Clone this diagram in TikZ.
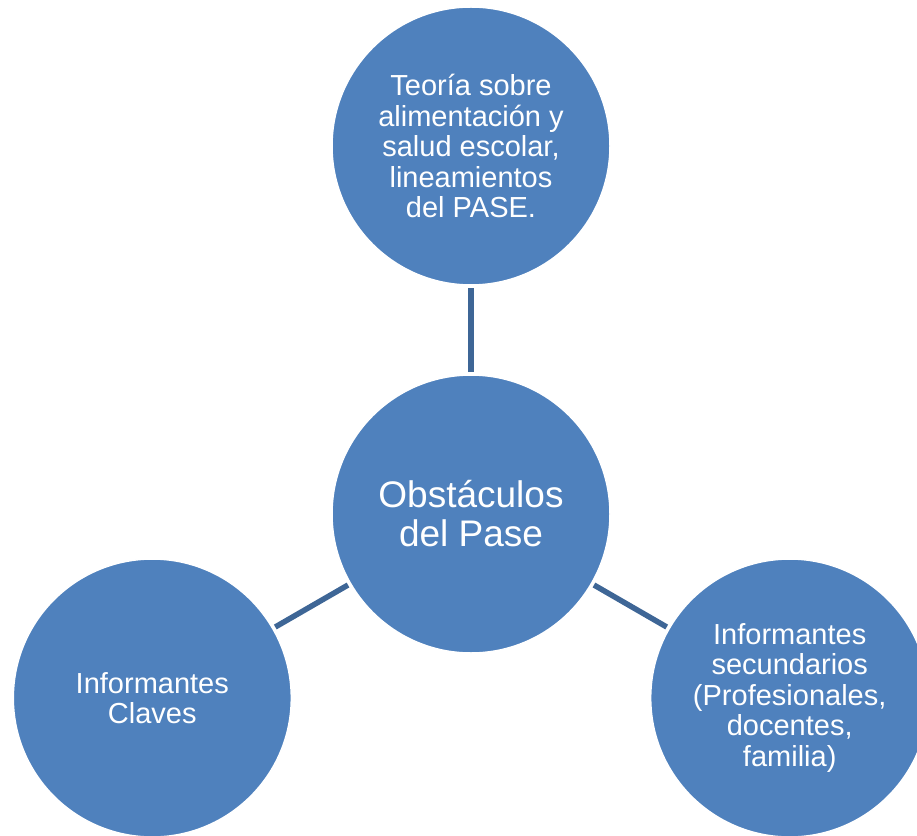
\documentclass[tikz,border=0pt]{standalone}
\usepackage{fontspec}
\setmainfont{Liberation Sans}
\usepackage{xcolor}
\usepackage{tikz}
\usetikzlibrary{calc}
\usetikzlibrary{positioning}

\definecolor{circblue}{HTML}{4F81BD}
\definecolor{linkblue}{HTML}{3E6696}

\begin{document}
\begin{tikzpicture}[x=1pt, y=1pt, main/.style = {circle, fill=circblue, draw=white, line width=1.5pt, minimum size=278pt, inner sep=0pt, outer sep=3pt, text=white, align=center, font=\fontsize{29pt}{30.5pt}\selectfont}, link/.style = {draw=linkblue, line width=5.5pt}]
		\useasboundingbox (-471,-321) rectangle (446,514);
		\node[main, font=\fontsize{37pt}{39pt}\selectfont] (O) at (0,0) {Obstáculos\\del Pase};
		\node[main] (T) at (90:368) {Teoría sobre\\alimentación y\\salud escolar,\\lineamientos\\del PASE.};
		\node[main] (K) at (210:368) {Informantes\\Claves};
		\node[main] (S) at (330:368) {Informantes\\secundarios\\(Profesionales,\\docentes,\\familia)};
		
		\begin{scope}[link]
			\draw (O) -- (T);
			\draw (O) -- (K);
			\draw (O) -- (S);
		\end{scope}
	\end{tikzpicture}
\end{document}
